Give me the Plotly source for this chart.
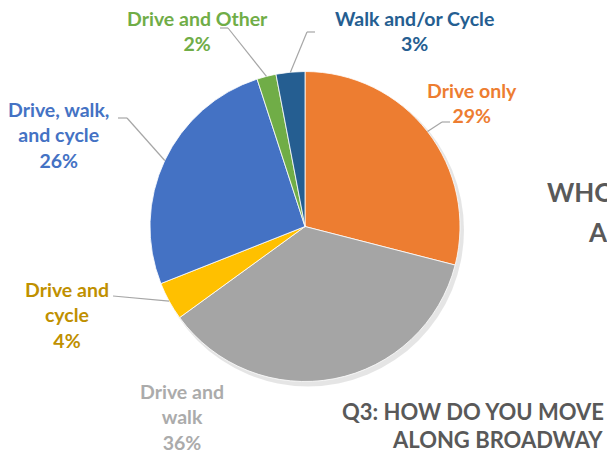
import math
import plotly.graph_objects as go

# ---- data ----
categories = ["Drive only", "Drive and walk", "Drive and cycle",
              "Drive, walk, and cycle", "Drive and Other", "Walk and/or Cycle"]
values = [29, 36, 4, 26, 2, 3]
slice_colors = ["#ED7D31", "#A5A5A5", "#FFC000", "#4472C4", "#70AD47", "#255E91"]
label_colors = ["#ED7D31", "#ABABAB", "#BF9000", "#4472C4", "#70AD47", "#255E91"]
label_lines = [["Drive only"], ["Drive and", "walk"], ["Drive and", "cycle"],
               ["Drive, walk,", "and cycle"], ["Drive and Other"], ["Walk and/or Cycle"]]

# ---- layout constants (pixels) ----
W, H = 607, 451
CX, CY, R = 305, 226.5, 155
FONT = "Lato, 'Open Sans', sans-serif"
FS = 19.5
# label block centers and leader line elbow/end points (None = no line)
label_pos = [(472, 102.5), (182, 417), (67, 315), (58, 135), (197, 30.5), (414, 30.5)]
leaders = [
    [(442, 122), (450, 122)],
    None,
    [(113, 296)],
    [(127, 118), (118, 118)],
    [(228, 28), (220, 28)],
    [(307, 32), (315, 32)],
]

def px(x):
    return x / W

def py(y):
    return 1 - y / H

fig = go.Figure()
fig.add_trace(go.Pie(
    labels=categories, values=values, sort=False, direction="clockwise",
    rotation=0, textinfo="none", hoverinfo="label+percent",
    marker=dict(colors=slice_colors, line=dict(color="white", width=0.8)),
    domain=dict(x=[px(CX - R), px(CX + R)], y=[py(CY + R), py(CY - R)]),
    showlegend=False,
))

shapes = []
# soft shadow
shapes.append(dict(type="circle", xref="paper", yref="paper", layer="below",
                   x0=px(CX - R + 2), x1=px(CX + R + 4), y0=py(CY + R + 5), y1=py(CY - R + 2),
                   fillcolor="rgba(0,0,0,0.10)", line=dict(width=0)))

annotations = []
total = sum(values)
cum = 0
for i, v in enumerate(values):
    mid = (cum + v / 2) / total * 2 * math.pi
    cum += v
    sx = CX + R * math.sin(mid)
    sy = CY - R * math.cos(mid)
    pct = round(v / total * 100)
    text = "<b>" + "<br>".join(label_lines[i] + [f"{pct}%"]) + "</b>"
    lx, ly = label_pos[i]
    annotations.append(dict(x=px(lx), y=py(ly), xref="paper", yref="paper",
                            text=text, showarrow=False, xanchor="center", yanchor="middle",
                            align="center",
                            font=dict(family=FONT, size=FS, color=label_colors[i])))
    if leaders[i]:
        pts = [(sx, sy)] + leaders[i]
        for a, b in zip(pts[:-1], pts[1:]):
            shapes.append(dict(type="line", xref="paper", yref="paper",
                               x0=px(a[0]), y0=py(a[1]), x1=px(b[0]), y1=py(b[1]),
                               line=dict(color="#A6A6A6", width=1.2)))

# slide text partially visible at right
TITLE = "#595959"
annotations += [
    dict(x=px(545), y=py(192), xref="paper", yref="paper", text="<b>WHO</b>",
         showarrow=False, xanchor="left", yanchor="middle",
         font=dict(family=FONT, size=26, color=TITLE)),
    dict(x=px(586), y=py(232), xref="paper", yref="paper", text="<b>A</b>",
         showarrow=False, xanchor="left", yanchor="middle",
         font=dict(family=FONT, size=26, color=TITLE)),
    dict(x=px(606), y=py(411), xref="paper", yref="paper", text="<b>Q3: HOW DO YOU MOVE</b>",
         showarrow=False, xanchor="right", yanchor="middle",
         font=dict(family=FONT, size=22, color=TITLE)),
    dict(x=px(605), y=py(439), xref="paper", yref="paper", text="<b>ALONG BROADWAY</b>",
         showarrow=False, xanchor="right", yanchor="middle",
         font=dict(family=FONT, size=22, color=TITLE)),
]

fig.update_layout(width=W, height=H, margin=dict(l=0, r=0, t=0, b=0),
                  paper_bgcolor="white", plot_bgcolor="white",
                  shapes=shapes, annotations=annotations)
fig.write_html("out.html", config={"displayModeBar": False},
               post_script="document.body.style.margin='0';document.body.style.overflow='hidden';")
